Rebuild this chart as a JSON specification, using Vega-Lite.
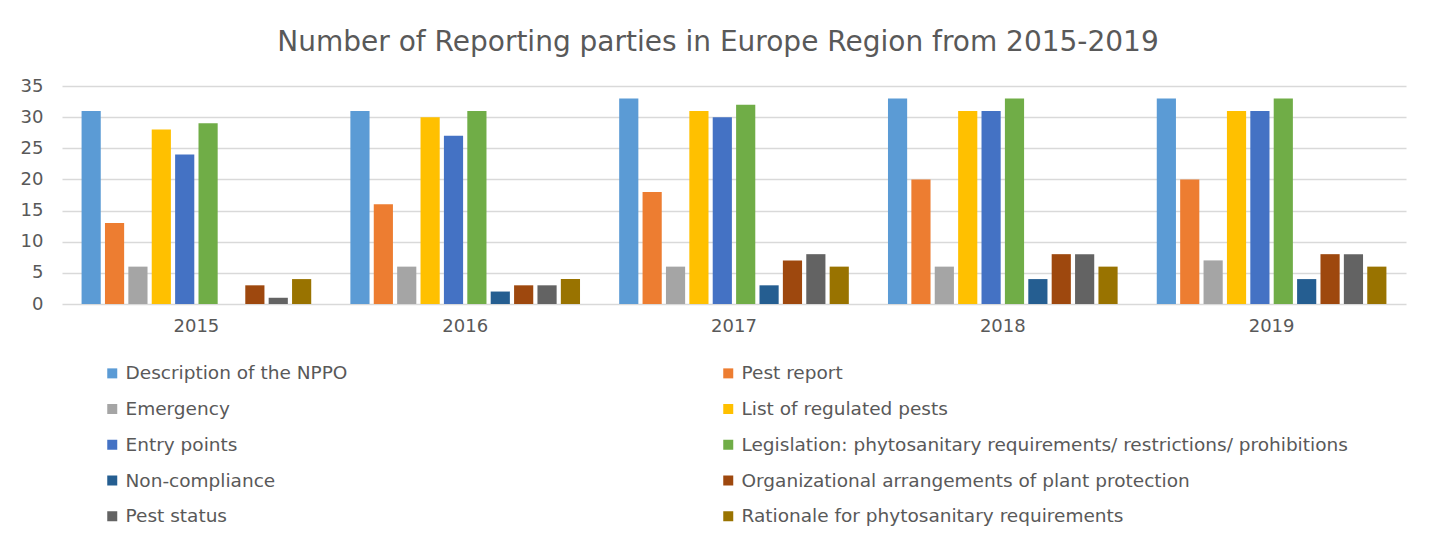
{
  "$schema": "https://vega.github.io/schema/vega-lite/v6.json",
  "autosize": {"type": "none"},
  "width": 1344,
  "height": 218,
  "padding": {"left": 62, "top": 86, "right": 25, "bottom": 236},
  "background": "white",
  "title": {
    "text": "Number of Reporting parties in Europe Region from 2015-2019",
    "font": "DejaVu Sans",
    "fontSize": 28,
    "fontWeight": "normal",
    "color": "#595959",
    "anchor": "middle",
    "baseline": "alphabetic",
    "offset": 34,
    "dy": 36,
    "dx": -16
  },
  "data": {
    "values": [
      {"year": "2015", "type": "Description of the NPPO", "value": 31},
      {"year": "2015", "type": "Pest report", "value": 13},
      {"year": "2015", "type": "Emergency", "value": 6},
      {"year": "2015", "type": "List of regulated pests", "value": 28},
      {"year": "2015", "type": "Entry points", "value": 24},
      {"year": "2015", "type": "Legislation: phytosanitary requirements/ restrictions/ prohibitions", "value": 29},
      {"year": "2015", "type": "Non-compliance", "value": 0},
      {"year": "2015", "type": "Organizational arrangements of plant protection", "value": 3},
      {"year": "2015", "type": "Pest status", "value": 1},
      {"year": "2015", "type": "Rationale for phytosanitary requirements", "value": 4},
      {"year": "2016", "type": "Description of the NPPO", "value": 31},
      {"year": "2016", "type": "Pest report", "value": 16},
      {"year": "2016", "type": "Emergency", "value": 6},
      {"year": "2016", "type": "List of regulated pests", "value": 30},
      {"year": "2016", "type": "Entry points", "value": 27},
      {"year": "2016", "type": "Legislation: phytosanitary requirements/ restrictions/ prohibitions", "value": 31},
      {"year": "2016", "type": "Non-compliance", "value": 2},
      {"year": "2016", "type": "Organizational arrangements of plant protection", "value": 3},
      {"year": "2016", "type": "Pest status", "value": 3},
      {"year": "2016", "type": "Rationale for phytosanitary requirements", "value": 4},
      {"year": "2017", "type": "Description of the NPPO", "value": 33},
      {"year": "2017", "type": "Pest report", "value": 18},
      {"year": "2017", "type": "Emergency", "value": 6},
      {"year": "2017", "type": "List of regulated pests", "value": 31},
      {"year": "2017", "type": "Entry points", "value": 30},
      {"year": "2017", "type": "Legislation: phytosanitary requirements/ restrictions/ prohibitions", "value": 32},
      {"year": "2017", "type": "Non-compliance", "value": 3},
      {"year": "2017", "type": "Organizational arrangements of plant protection", "value": 7},
      {"year": "2017", "type": "Pest status", "value": 8},
      {"year": "2017", "type": "Rationale for phytosanitary requirements", "value": 6},
      {"year": "2018", "type": "Description of the NPPO", "value": 33},
      {"year": "2018", "type": "Pest report", "value": 20},
      {"year": "2018", "type": "Emergency", "value": 6},
      {"year": "2018", "type": "List of regulated pests", "value": 31},
      {"year": "2018", "type": "Entry points", "value": 31},
      {"year": "2018", "type": "Legislation: phytosanitary requirements/ restrictions/ prohibitions", "value": 33},
      {"year": "2018", "type": "Non-compliance", "value": 4},
      {"year": "2018", "type": "Organizational arrangements of plant protection", "value": 8},
      {"year": "2018", "type": "Pest status", "value": 8},
      {"year": "2018", "type": "Rationale for phytosanitary requirements", "value": 6},
      {"year": "2019", "type": "Description of the NPPO", "value": 33},
      {"year": "2019", "type": "Pest report", "value": 20},
      {"year": "2019", "type": "Emergency", "value": 7},
      {"year": "2019", "type": "List of regulated pests", "value": 31},
      {"year": "2019", "type": "Entry points", "value": 31},
      {"year": "2019", "type": "Legislation: phytosanitary requirements/ restrictions/ prohibitions", "value": 33},
      {"year": "2019", "type": "Non-compliance", "value": 4},
      {"year": "2019", "type": "Organizational arrangements of plant protection", "value": 8},
      {"year": "2019", "type": "Pest status", "value": 8},
      {"year": "2019", "type": "Rationale for phytosanitary requirements", "value": 6}
    ]
  },
  "mark": {"type": "bar"},
  "encoding": {
    "x": {
      "field": "year",
      "type": "nominal",
      "scale": {"paddingInner": 0.13, "paddingOuter": 0.065},
      "axis": {
        "title": null,
        "labelAngle": 0,
        "domain": false,
        "ticks": false,
        "labelPadding": 13,
        "labelFont": "DejaVu Sans",
        "labelFontSize": 18,
        "labelColor": "#595959"
      }
    },
    "xOffset": {
      "field": "type",
      "type": "nominal",
      "sort": null,
      "scale": {"paddingInner": 0.18, "paddingOuter": 0.09}
    },
    "y": {
      "field": "value",
      "type": "quantitative",
      "scale": {"domain": [0, 35], "nice": false},
      "axis": {
        "title": null,
        "values": [0, 5, 10, 15, 20, 25, 30, 35],
        "domain": false,
        "ticks": false,
        "labelPadding": 19,
        "labelFont": "DejaVu Sans",
        "labelFontSize": 18,
        "labelColor": "#595959",
        "gridColor": "#D9D9D9",
        "gridWidth": 1.5
      }
    },
    "color": {
      "field": "type",
      "type": "nominal",
      "sort": null,
      "scale": {
        "domain": [
          "Description of the NPPO",
          "Pest report",
          "Emergency",
          "List of regulated pests",
          "Entry points",
          "Legislation: phytosanitary requirements/ restrictions/ prohibitions",
          "Non-compliance",
          "Organizational arrangements of plant protection",
          "Pest status",
          "Rationale for phytosanitary requirements"
        ],
        "range": ["#5B9BD5", "#ED7D31", "#A5A5A5", "#FFC000", "#4472C4", "#70AD47", "#255E91", "#9E480E", "#636363", "#997300"]
      },
      "legend": {
        "title": null,
        "orient": "none",
        "legendX": 41,
        "legendY": 278,
        "direction": "horizontal",
        "columns": 2,
        "columnPadding": 371,
        "rowPadding": 16.75,
        "padding": 0,
        "symbolType": "square",
        "symbolSize": 100,
        "symbolStrokeWidth": 0,
        "labelFont": "DejaVu Sans",
        "labelFontSize": 18.5,
        "labelColor": "#595959",
        "labelOffset": 4,
        "labelLimit": 800
      }
    }
  },
  "config": {
    "view": {"stroke": null},
    "axis": {"labelFont": "DejaVu Sans"}
  }
}
